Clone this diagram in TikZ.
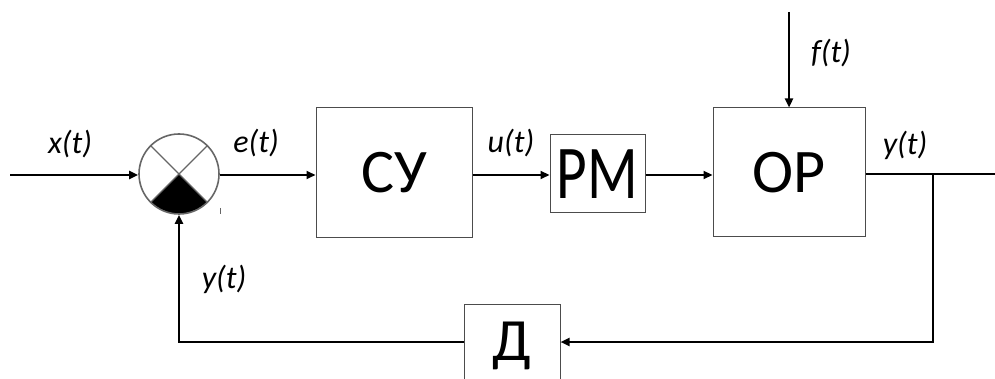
\documentclass[tikz,border=0pt]{standalone}
\usepackage{fontspec}
\setmainfont{Carlito}
\usetikzlibrary{arrows.meta,calc}
\tikzset{
  blk/.style={draw=black!70, line width=1pt, rectangle, inner sep=0pt, text=black},
  conn/.style={line width=2.2pt, black},
  arr/.style={conn, -{Triangle[length=9pt,width=8pt]}},
  lbl/.style={font=\fontsize{32}{32}\selectfont\itshape, inner sep=0pt},
  big/.style={font=\fontsize{62}{62}\selectfont},
}
\begin{document}
\begin{tikzpicture}[x=1pt,y=-1pt]
\useasboundingbox (0,0) rectangle (995,379);
% summing junction
\coordinate (c) at (179,174);
\fill[black] (c) -- ($(c)+(45:39.5)$) arc[start angle=45,end angle=135,radius=39.5] -- cycle;
\node[circle, draw=black!60, line width=1.6pt, minimum size=80pt, inner sep=0pt] (sum) at (c) {};
\draw[black!60, line width=1.2pt] (sum.45) -- (sum.225) (sum.135) -- (sum.315);
\draw[black!60, line width=0.8pt] (220,208) -- (220,214);
% blocks
\node[blk, minimum width=156pt, minimum height=130pt, big] (su) at (394,173) {СУ};
\node[blk, minimum width=95pt, minimum height=78pt] (pm) at (597.5,174)
  {\scalebox{0.78}[1]{\fontsize{76}{76}\selectfont PM}};
\node[blk, minimum width=96pt, minimum height=92pt] (d) at (512,350) {};
\node[blk, minimum width=152pt, minimum height=129pt, big] (op) at (789,172.5) {OP};
\node[font=\fontsize{60}{60}\selectfont, inner sep=0pt, anchor=base] (dt) at (512,360) {Д};
% connectors
\coordinate (in) at (10,175);
\coordinate (ftop) at (789,12);
\coordinate (out) at (995,174);
\coordinate (br) at (933,174);
\draw[arr] (in) -- (sum.west |- in);
\draw[arr] (sum.east |- 0,175) -- (su.west |- 0,175);
\draw[arr] (su.east |- 0,175) -- (pm.west |- 0,175);
\draw[arr] (pm.east |- 0,175) -- (op.west |- 0,175);
\draw[conn] (op.east |- out) -- (out);
\draw[arr] (ftop) -- (op.north);
\draw[arr] (br) |- (d.east |- 0,342);
\draw[arr] (d.west |- 0,342) -| (sum.south);
% labels
\node[lbl] (lx) at (70,144) {x(t)};
\node[lbl] (le) at (256,143) {e(t)};
\node[lbl] (lu) at (511,143) {u(t)};
\node[lbl] (ly) at (905,145) {y(t)};
\node[lbl] (lf) at (831,53) {f(t)};
\node[lbl] (ly2) at (224,279) {y(t)};
\end{tikzpicture}
\end{document}
